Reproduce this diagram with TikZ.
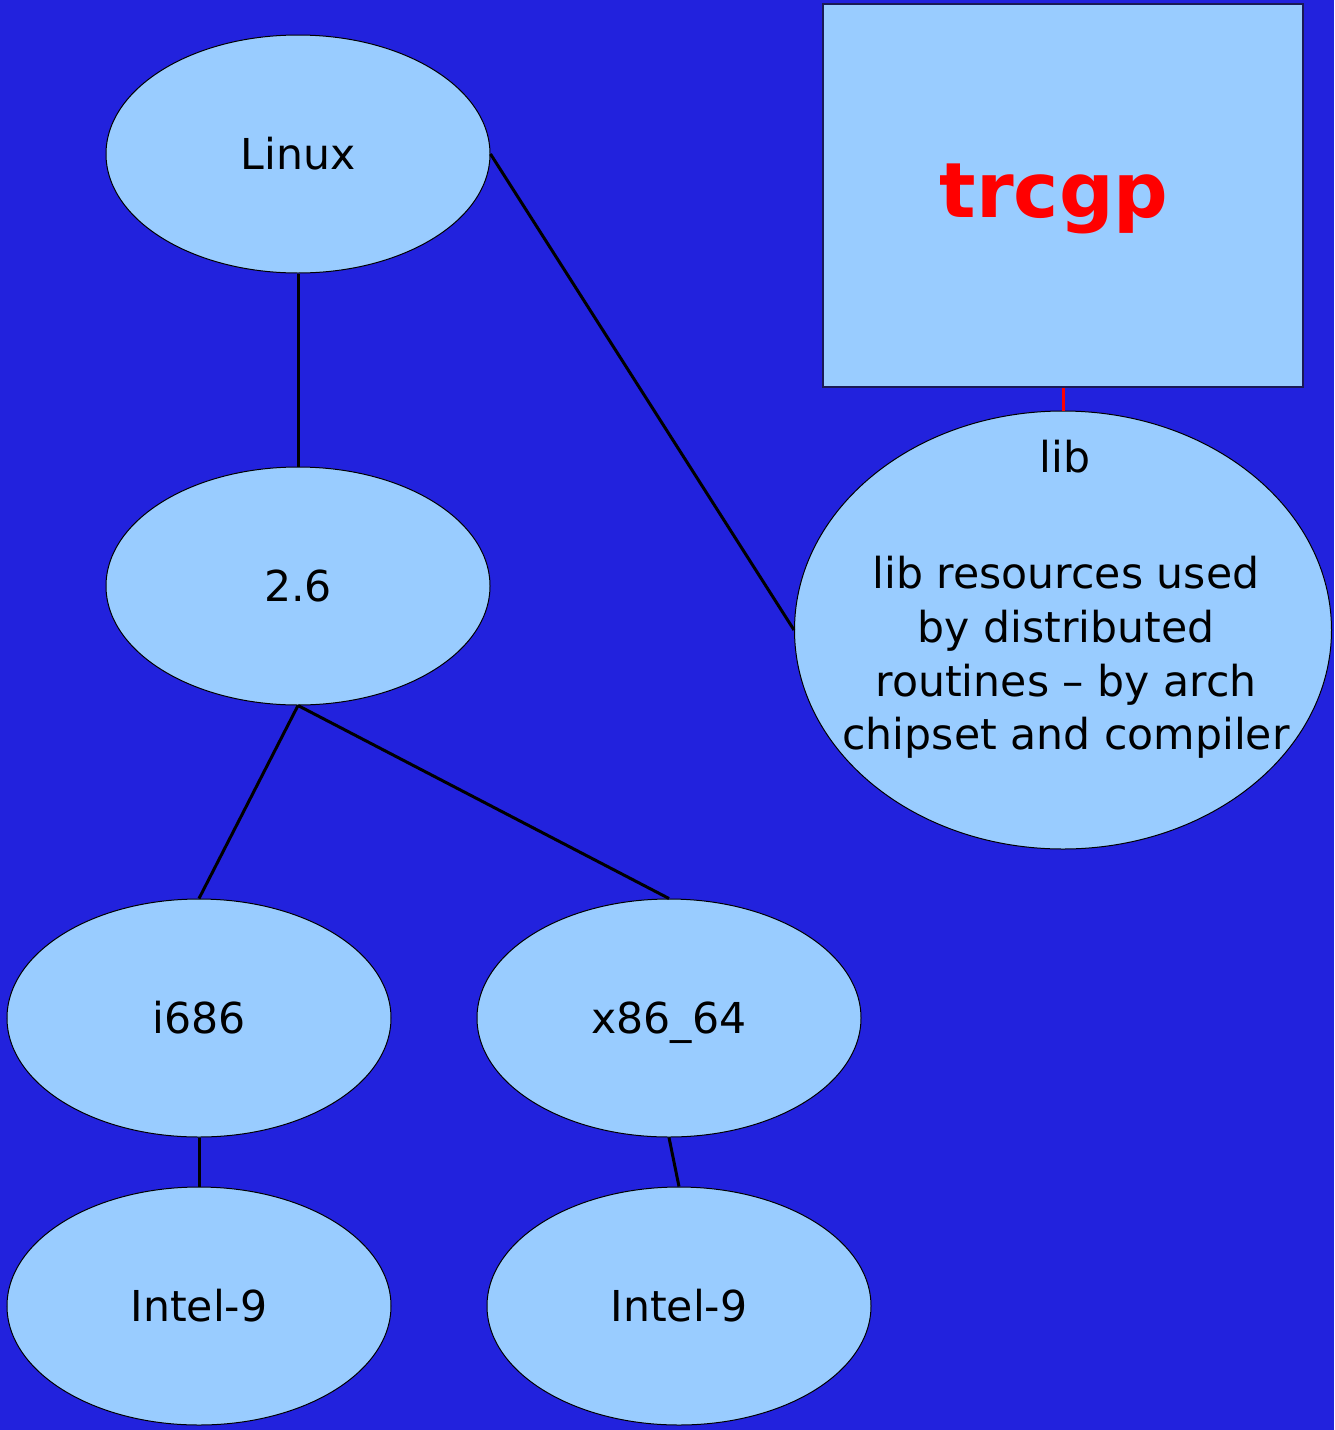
\documentclass[tikz,border=0pt]{standalone}
\usepackage{fontspec}
\setmainfont{DejaVu Sans}
\usetikzlibrary{shapes.geometric}
\definecolor{bgblue}{HTML}{2222DD}
\definecolor{nodefill}{HTML}{99CCFF}
\definecolor{boxline}{HTML}{1A1A55}
\tikzset{
  ell/.style={ellipse, draw=black, line width=0.5pt, fill=nodefill, inner sep=0pt,
              minimum width=192pt, minimum height=119pt, text height=15.4pt, text depth=0pt,
              font=\fontsize{21.3}{25}\selectfont},
  edge/.style={line width=1.5pt, black},
  txt/.style={font=\fontsize{21.3}{26.9}\selectfont, align=center, inner sep=0pt},
}
\begin{document}
\begin{tikzpicture}[x=0.5pt,y=-0.5pt]
\fill[bgblue] (0,0) rectangle (1334,1430);
\useasboundingbox (0,0) rectangle (1334,1430);
\node[draw=boxline, line width=0.6pt, fill=nodefill, minimum width=240pt, minimum height=191.5pt, inner sep=0pt] (box) at (1063,195.5) {};
\node[font=\fontsize{38.2}{44}\selectfont\bfseries, text=red] (title) at (1054,199) {trcgp};
\node[ell] (linux) at (298,154) {Linux};
\node[ell] (v26) at (298,586) {2.6};
\node[ell] (i686) at (199,1018) {i686};
\node[ell] (x86) at (669,1018) {x86\_64};
\node[ell] (intA) at (199,1306) {Intel-9};
\node[ell] (intB) at (679,1306) {Intel-9};
\node[ellipse, draw=black, line width=0.5pt, fill=nodefill, inner sep=0pt, minimum width=268.5pt, minimum height=219pt] (lib) at (1063,630) {};
\node[txt] (libname) at (1065,457) {lib};
\node[txt] (libdesc) at (1066,657.5) {lib resources used\\by distributed\\routines -- by arch\\chipset and compiler};
\draw[edge] (linux.south) -- (v26.north);
\draw[edge] (linux.east) -- (lib.west);
\draw[edge] (v26.south) -- (i686.north);
\draw[edge] (v26.south) -- (x86.north);
\draw[edge] (i686.south) -- (intA.north);
\draw[edge] (x86.south) -- (intB.north);
\draw[line width=1.5pt, red] (box.south) -- (lib.north);
\end{tikzpicture}
\end{document}
